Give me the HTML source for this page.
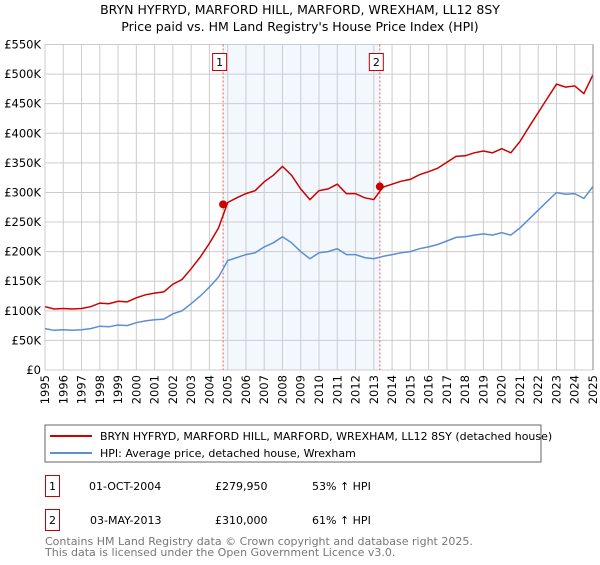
<!DOCTYPE html>
<html><head><meta charset="utf-8"><style>
body{margin:0;background:#fff;font-family:"Liberation Sans","DejaVu Sans",sans-serif;}
svg text{font-family:"DejaVu Sans","Liberation Sans",sans-serif;}
</style></head><body>
<svg id="chart" width="600" height="560" xmlns="http://www.w3.org/2000/svg">
<text x="300" y="14" text-anchor="middle" font-size="12.5">BRYN HYFRYD, MARFORD HILL, MARFORD, WREXHAM, LL12 8SY</text>
<text x="300" y="31" text-anchor="middle" font-size="12.5">Price paid vs. HM Land Registry's House Price Index (HPI)</text>
<g id="grid"></g><g id="series"></g><g id="axes"></g>
<rect x="45" y="425" width="496" height="37" fill="#fff" stroke="#666"/>
<line x1="50" y1="436" x2="92" y2="436" stroke="#cc0000" stroke-width="2"/>
<text x="100" y="440" font-size="11">BRYN HYFRYD, MARFORD HILL, MARFORD, WREXHAM, LL12 8SY (detached house)</text>
<line x1="50" y1="453" x2="92" y2="453" stroke="#5b8fd0" stroke-width="2"/>
<text x="100" y="457" font-size="11">HPI: Average price, detached house, Wrexham</text>
<rect x="45.5" y="475.5" width="14" height="21" fill="#fff" stroke="#cc0000"/>
<text x="52.5" y="490" text-anchor="middle" font-size="11">1</text>
<text x="89" y="490" font-size="11">01-OCT-2004</text>
<text x="215" y="490" font-size="11">£279,950</text>
<text x="312" y="490" font-size="11">53% ↑ HPI</text>
<rect x="45.5" y="509.5" width="14" height="21" fill="#fff" stroke="#cc0000"/>
<text x="52.5" y="524" text-anchor="middle" font-size="11">2</text>
<text x="90" y="524" font-size="11">03-MAY-2013</text>
<text x="215" y="524" font-size="11">£310,000</text>
<text x="312" y="524" font-size="11">61% ↑ HPI</text>
<text x="45" y="545" font-size="11" fill="#777">Contains HM Land Registry data © Crown copyright and database right 2025.</text>
<text x="45" y="556" font-size="11" fill="#777">This data is licensed under the Open Government Licence v3.0.</text>
</svg>
<script>
const years=[1995,1996,1997,1998,1999,2000,2001,2002,2003,2004,2005,2006,2007,2008,2009,2010,2011,2012,2013,2014,2015,2016,2017,2018,2019,2020,2021,2022,2023,2024,2025];
const yTicks=[0,50000,100000,150000,200000,250000,300000,350000,400000,450000,500000,550000];
const yTickLabels=["£0","£50K","£100K","£150K","£200K","£250K","£300K","£350K","£400K","£450K","£500K","£550K"];
const seriesStart=1995, seriesStep=0.5;
const hpiValues=[70,67,68,67,68,70,74,73,76,75,80,83,85,86,95,100,112,125,140,157,185,190,195,198,208,215,225,215,200,188,198,200,205,195,195,190,188,192,195,198,200,205,208,212,218,224,225,228,230,228,232,228,240,255,270,285,300,297,298,290,310];
const propertyValues=[107,103,104,103,104,107,113,112,116,115,122,127,130,132,145,153,171,191,214,240,283,291,298,303,318,329,344,329,306,288,303,306,314,298,298,291,288,309,314,319,322,330,335,341,351,361,362,367,370,367,374,367,386,411,435,459,483,478,480,467,499];
const saleDates=[2004.75,2013.33];
const salePrices=[279950,310000];
const saleLabels=["1","2"];
const NS="http://www.w3.org/2000/svg";
const X0=45,X1=593,Y0=370,Y1=44.5;
const xs=t=>X0+(t-1995)/30*(X1-X0);
const ys=v=>Y0-v/550000*(Y0-Y1);
function mk(tag,attrs,parent){const e=document.createElementNS(NS,tag);for(const k in attrs)e.setAttribute(k,attrs[k]);parent.appendChild(e);return e;}
const grid=document.getElementById('grid'),series=document.getElementById('series'),axes=document.getElementById('axes');
const shade=mk('rect',{x:xs(saleDates[0]),y:Y1,width:xs(saleDates[1])-xs(saleDates[0]),height:Y0-Y1,fill:'#eef3fd',opacity:0.7},grid);


years.forEach(y=>{const l=mk('line',{x1:xs(y),x2:xs(y),y1:Y1,y2:Y0,stroke:'#ccc'},grid);


const t=mk('text',{x:0,y:0,'font-size':11.5,'text-anchor':'end',transform:`translate(${xs(y)+4},${Y0+5}) rotate(-90)`},axes);t.textContent=y;

});
yTicks.forEach((v,i)=>{const l=mk('line',{x1:X0,x2:X1,y1:ys(v),y2:ys(v),stroke:'#ccc'},grid);


const t=mk('text',{x:X0-4,y:ys(v)+4,'font-size':11.5,'text-anchor':'end'},axes);t.textContent=yTickLabels[i];

});
saleDates.forEach((d,i)=>{const l=mk('line',{x1:xs(d),x2:xs(d),y1:Y1,y2:Y0,stroke:'#e06060','stroke-dasharray':'2,2'},grid);


const r=mk('rect',{x:xs(d)-10.5,y:53.5,width:14,height:17,fill:'#fff',stroke:'#cc0000'},axes);


const t=mk('text',{x:xs(d)-3.5,y:66,'font-size':11,'text-anchor':'middle'},axes);t.textContent=saleLabels[i];

});
function path(vals,color,name){const d=vals.map((v,i)=>(i?'L':'M')+xs(seriesStart+i*seriesStep).toFixed(1)+','+ys(v*1000).toFixed(1)).join('');
const p=mk('path',{d:d,fill:'none',stroke:color,'stroke-width':1.5},series);

}
path(hpiValues,'#5b8fd0','hpi-line');
path(propertyValues,'#cc0000','property-line');
saleDates.forEach((d,i)=>{const c=mk('circle',{cx:xs(d),cy:ys(salePrices[i]),r:4,fill:'#cc0000'},series);

});
const b=mk('line',{x1:X1,x2:X1,y1:Y1,y2:Y0,stroke:'#888'},axes);


</script>
</body></html>
